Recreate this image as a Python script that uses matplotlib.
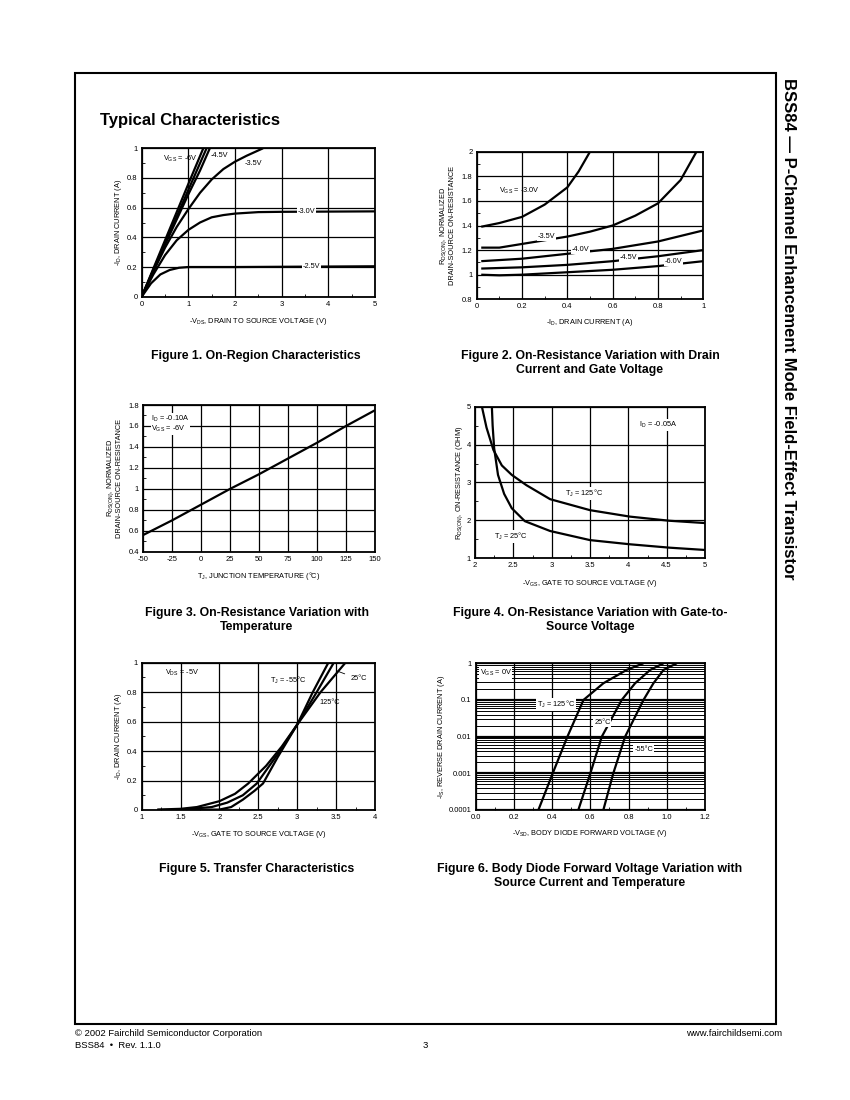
import matplotlib
matplotlib.use("Agg")
import matplotlib.pyplot as plt
from matplotlib.patches import Rectangle
from matplotlib.ticker import FuncFormatter, MultipleLocator, LogLocator, NullFormatter

plt.rcParams['font.family'] = ['Liberation Sans', 'DejaVu Sans']
plt.rcParams['mathtext.fontset'] = 'custom'
plt.rcParams['mathtext.rm'] = 'Liberation Sans'
plt.rcParams['mathtext.it'] = 'Liberation Sans'

# ---- Figure 1: on-region characteristics ----
f1_vgs = ["-6V", "-5V", "-4.5V", "-3.5V", "-3.0V", "-2.5V"]
f1_x = [
    [0, 0.5, 1.0, 1.32],
    [0, 0.5, 1.0, 1.39],
    [0, 0.25, 0.5, 0.75, 1.0, 1.25, 1.46],
    [0, 0.25, 0.5, 0.75, 1.0, 1.25, 1.5, 1.75, 2.0, 2.25, 2.6],
    [0, 0.25, 0.5, 0.75, 1.0, 1.25, 1.5, 1.75, 2.0, 2.5, 3.0, 5.0],
    [0, 0.2, 0.4, 0.6, 0.8, 1.0, 2.0, 5.0],
]
f1_y = [
    [0, 0.38, 0.76, 1.0],
    [0, 0.36, 0.72, 1.0],
    [0, 0.18, 0.35, 0.52, 0.69, 0.85, 1.0],
    [0, 0.17, 0.33, 0.47, 0.59, 0.70, 0.79, 0.86, 0.91, 0.95, 1.0],
    [0, 0.15, 0.28, 0.38, 0.45, 0.50, 0.535, 0.55, 0.56, 0.57, 0.572, 0.575],
    [0, 0.09, 0.15, 0.18, 0.195, 0.2, 0.2, 0.205],
]

# ---- Figure 2: normalized on-resistance vs drain current ----
f2_vgs = ["-3.0V", "-3.5V", "-4.0V", "-4.5V", "-6.0V"]
f2_x = [
    [0.02, 0.1, 0.2, 0.3, 0.4, 0.45, 0.5],
    [0.02, 0.1, 0.2, 0.3, 0.4, 0.5, 0.6, 0.7, 0.8, 0.9, 0.97],
    [0.02, 0.2, 0.4, 0.6, 0.8, 1.0],
    [0.02, 0.2, 0.4, 0.6, 0.8, 1.0],
    [0.02, 0.1, 0.2, 0.4, 0.6, 0.8, 1.0],
]
f2_y = [
    [1.39, 1.42, 1.47, 1.57, 1.71, 1.84, 2.0],
    [1.22, 1.22, 1.25, 1.28, 1.31, 1.35, 1.40, 1.48, 1.58, 1.77, 2.0],
    [1.11, 1.13, 1.17, 1.21, 1.27, 1.36],
    [1.05, 1.06, 1.08, 1.11, 1.15, 1.20],
    [1.0, 0.995, 1.0, 1.02, 1.04, 1.07, 1.11],
]

# ---- Figure 3: normalized on-resistance vs temperature ----
f3_temp = [-50, -25, 0, 25, 50, 75, 100, 125, 150]
f3_r = [0.56, 0.70, 0.85, 1.0, 1.14, 1.29, 1.44, 1.60, 1.75]

# ---- Figure 4: on-resistance vs gate voltage ----
f4_labels = ["25", "125"]
f4_x = [
    [2.22, 2.23, 2.25, 2.3, 2.38, 2.48, 2.65, 2.98, 3.5, 4.02, 4.54, 5.0],
    [2.09, 2.15, 2.24, 2.35, 2.48, 2.67, 2.98, 3.5, 4.02, 4.54, 5.0],
]
f4_y = [
    [5.0, 4.5, 3.9, 3.2, 2.7, 2.32, 1.98, 1.72, 1.48, 1.37, 1.28, 1.22],
    [5.0, 4.45, 3.86, 3.45, 3.2, 2.93, 2.56, 2.27, 2.10, 1.99, 1.93],
]

# ---- Figure 5: transfer characteristics ----
f5_labels = ["-55", "25", "125"]
f5_x = [
    [1.2, 2.0, 2.15, 2.3, 2.45, 2.56, 2.75, 3.0, 3.2, 3.4],
    [1.5, 1.9, 2.1, 2.3, 2.48, 2.75, 3.0, 3.25, 3.47],
    [1.2, 1.5, 1.71, 2.0, 2.2, 2.37, 2.6, 2.8, 3.0, 3.3, 3.62],
]
f5_y = [
    [0.0, 0.003, 0.02, 0.07, 0.13, 0.18, 0.36, 0.58, 0.8, 1.0],
    [0.002, 0.02, 0.05, 0.1, 0.18, 0.38, 0.58, 0.8, 1.0],
    [0.003, 0.008, 0.02, 0.06, 0.11, 0.18, 0.3, 0.43, 0.58, 0.8, 1.0],
]

# ---- Figure 6: body diode forward voltage ----
f6_labels = ["125", "25", "-55"]
f6_i = [0.0001, 0.001, 0.01, 0.1, 0.285, 0.66, 1.0]
f6_v = [
    [0.328, 0.403, 0.48, 0.564, 0.668, 0.79, 0.878],
    [0.537, 0.60, 0.66, 0.764, 0.834, 0.913, 0.983],
    [0.668, 0.72, 0.782, 0.878, 0.93, 0.983, 1.052],
]

W, H = 850, 1100
fig = plt.figure(figsize=(8.5, 11), dpi=100)

TICK = 5.5
LAB = 5.3


def add_ax(l, t, r, b):
    return fig.add_axes([l / W, 1 - b / H, (r - l) / W, (b - t) / H])


def fmt(v, pos):
    return "%g" % v


def style(ax, xlim, ylim, xmaj, ymaj, xmin=None, ymin=None):
    ax.set_xlim(*xlim)
    ax.set_ylim(*ylim)
    ax.xaxis.set_major_locator(MultipleLocator(xmaj))
    ax.yaxis.set_major_locator(MultipleLocator(ymaj))
    if xmin:
        ax.xaxis.set_minor_locator(MultipleLocator(xmin))
    if ymin:
        ax.yaxis.set_minor_locator(MultipleLocator(ymin))
    ax.xaxis.set_major_formatter(FuncFormatter(fmt))
    ax.yaxis.set_major_formatter(FuncFormatter(fmt))
    ax.grid(True, which='major', color='black', lw=0.9)
    ax.tick_params(which='both', direction='in', labelsize=TICK, width=0.6, pad=3)
    ax.tick_params(which='major', length=0)
    ax.tick_params(which='minor', length=2.5)
    for s in ax.spines.values():
        s.set_linewidth(1.3)


def line(ax, x, y):
    ax.plot(x, y, color='black', lw=1.6, solid_capstyle='butt')


wb = dict(facecolor='white', edgecolor='none', pad=0.6)

# Figure 1
ax1 = add_ax(141.7, 148.3, 375, 296.7)
style(ax1, (0, 5), (0, 1), 1, 0.2, 0.5, 0.1)
for x, y in zip(f1_x, f1_y):
    line(ax1, x, y)
ax1.text(0.45, 0.93, "V$_{GS}$ = -6V", fontsize=LAB, ha='left', va='center')
ax1.text(1.47, 0.95, "-4.5V", fontsize=LAB, va='center')
ax1.text(2.2, 0.90, "-3.5V", fontsize=LAB, va='center')
ax1.text(3.35, 0.573, "-3.0V", fontsize=LAB, va='center', bbox=wb)
ax1.text(3.45, 0.205, "-2.5V", fontsize=LAB, va='center', bbox=wb)
ax1.set_xlabel("-V$_{DS}$, DRAIN TO SOURCE VOLTAGE (V)", fontsize=LAB, labelpad=6)
ax1.set_ylabel("-I$_D$, DRAIN CURRENT (A)", fontsize=LAB, labelpad=2)

# Figure 2
ax2 = add_ax(476.7, 151.7, 703.3, 299.3)
style(ax2, (0, 1), (0.8, 2), 0.2, 0.2, 0.1, 0.1)
for x, y in zip(f2_x, f2_y):
    line(ax2, x, y)
ax2.text(0.1, 1.68, "V$_{GS}$ = -3.0V", fontsize=LAB, va='center')
ax2.text(0.27, 1.31, "-3.5V", fontsize=LAB, va='center', bbox=wb)
ax2.text(0.42, 1.205, "-4.0V", fontsize=LAB, va='center', bbox=wb)
ax2.text(0.63, 1.14, "-4.5V", fontsize=LAB, va='center', bbox=wb)
ax2.text(0.83, 1.105, "-6.0V", fontsize=LAB, va='center', bbox=wb)
ax2.set_xlabel("-I$_D$, DRAIN CURRENT (A)", fontsize=LAB, labelpad=5)
ax2.set_ylabel("R$_{DS(ON)}$, NORMALIZED\nDRAIN-SOURCE ON-RESISTANCE", fontsize=LAB,
               labelpad=4, linespacing=1.0)

# Figure 3
ax3 = add_ax(143.3, 405, 375, 551.7)
style(ax3, (-50, 150), (0.4, 1.8), 25, 0.2, None, 0.1)
line(ax3, f3_temp, f3_r)
ax3.text(-43, 1.62, "I$_D$ = -0.10A\nV$_{GS}$ = -6V", fontsize=LAB, va='center',
         linespacing=1.1, bbox=wb)
ax3.set_xlabel("T$_J$, JUNCTION TEMPERATURE (°C)", fontsize=LAB, labelpad=5)
ax3.set_ylabel("R$_{DS(ON)}$, NORMALIZED\nDRAIN-SOURCE ON-RESISTANCE", fontsize=LAB,
               labelpad=4, linespacing=1.0)

# Figure 4
ax4 = add_ax(475, 406.7, 705, 558.3)
style(ax4, (2, 5), (1, 5), 0.5, 1, 0.25, 0.5)
for x, y in zip(f4_x, f4_y):
    line(ax4, x, y)
ax4.text(4.14, 4.52, "I$_D$ = -0.05A", fontsize=LAB, va='center', bbox=wb)
ax4.text(3.18, 2.72, "T$_J$ = 125°C", fontsize=LAB, va='center', bbox=wb)
ax4.text(2.25, 1.57, "T$_J$ = 25°C", fontsize=LAB, va='center', bbox=wb)
ax4.set_xlabel("-V$_{GS}$, GATE TO SOURCE VOLTAGE (V)", fontsize=LAB, labelpad=6)
ax4.set_ylabel("R$_{DS(ON)}$, ON-RESISTANCE (OHM)", fontsize=LAB, labelpad=1)

# Figure 5
ax5 = add_ax(141.7, 662.7, 375, 810)
style(ax5, (1, 4), (0, 1), 0.5, 0.2, 0.25, 0.1)
for x, y in zip(f5_x, f5_y):
    line(ax5, x, y)
ax5.text(1.3, 0.93, "V$_{DS}$ = -5V", fontsize=LAB, va='center')
ax5.text(2.65, 0.88, "T$_J$ = -55°C", fontsize=LAB, va='center')
ax5.annotate("25°C", xy=(3.48, 0.95), xytext=(3.68, 0.89), fontsize=LAB, va='center',
             arrowprops=dict(arrowstyle='-', lw=0.6, color='black'))
ax5.text(3.28, 0.73, "125°C", fontsize=LAB, va='center')
ax5.set_xlabel("-V$_{GS}$, GATE TO SOURCE VOLTAGE (V)", fontsize=LAB, labelpad=6)
ax5.set_ylabel("-I$_D$, DRAIN CURRENT (A)", fontsize=LAB, labelpad=2)

# Figure 6
ax6 = add_ax(475.7, 663.3, 705, 810)
ax6.set_yscale('log')
ax6.set_xlim(0, 1.2)
ax6.set_ylim(0.0001, 1)
ax6.xaxis.set_major_locator(MultipleLocator(0.2))
ax6.xaxis.set_minor_locator(MultipleLocator(0.1))
ax6.xaxis.set_major_formatter(FuncFormatter(lambda v, p: "%.1f" % v))
ax6.yaxis.set_major_locator(LogLocator(base=10, numticks=10))
ax6.yaxis.set_minor_locator(LogLocator(base=10, subs=range(2, 10), numticks=50))
ax6.yaxis.set_major_formatter(FuncFormatter(fmt))
ax6.yaxis.set_minor_formatter(NullFormatter())
ax6.grid(True, which='major', axis='x', color='black', lw=0.9)
ax6.grid(True, which='major', axis='y', color='black', lw=1.6)
ax6.grid(True, which='minor', axis='y', color='black', lw=0.7)
ax6.tick_params(which='both', direction='in', labelsize=TICK, width=0.6, pad=3)
ax6.tick_params(which='major', length=0)
ax6.tick_params(which='minor', axis='x', length=2.5)
ax6.tick_params(which='minor', axis='y', length=0)
for s in ax6.spines.values():
    s.set_linewidth(1.3)
for v in f6_v:
    line(ax6, v, f6_i)
ax6.text(0.02, 0.55, "V$_{GS}$ = 0V", fontsize=LAB, va='center', bbox=wb)
ax6.text(0.32, 0.075, "T$_J$ = 125°C", fontsize=LAB, va='center', bbox=wb)
ax6.text(0.62, 0.024, "25°C", fontsize=LAB, va='center', bbox=wb)
ax6.text(0.83, 0.0045, "-55°C", fontsize=LAB, va='center', bbox=wb)
ax6.set_xlabel("-V$_{SD}$, BODY DIODE FORWARD VOLTAGE (V)", fontsize=LAB, labelpad=5)
ax6.set_ylabel("-I$_S$, REVERSE DRAIN CURRENT (A)", fontsize=LAB, labelpad=1)

# page text
CAP = 8.8
captions = [
    (256, 356, "Figure 1. On-Region Characteristics"),
    (590, 363, "Figure 2. On-Resistance Variation with Drain\nCurrent and Gate Voltage"),
    (257, 620, "Figure 3. On-Resistance Variation with\nTemperature"),
    (590, 620, "Figure 4. On-Resistance Variation with Gate-to-\nSource Voltage"),
    (257, 869, "Figure 5. Transfer Characteristics"),
    (590, 876, "Figure 6. Body Diode Forward Voltage Variation with\nSource Current and Temperature"),
]
for x, y, s in captions:
    fig.text(x / W, 1 - y / H, s, ha='center', va='center', fontsize=CAP,
             fontweight='bold', linespacing=1.25)

fig.text(100 / W, 1 - 120 / H, "Typical Characteristics", fontsize=12, fontweight='bold',
         va='center')
fig.text(789 / W, 1 - 78 / H, "BSS84 — P-Channel Enhancement Mode Field-Effect Transistor",
         rotation=-90, fontsize=12, fontweight='bold', ha='center', va='top')

fig.add_artist(Rectangle((75 / W, 1 - 1024 / H), (776 - 75) / W, (1024 - 73) / H,
                         transform=fig.transFigure, fill=False, lw=1.5, color='black'))

fig.text(75 / W, 1 - 1033 / H, "© 2002 Fairchild Semiconductor Corporation", fontsize=6.8,
         va='center')
fig.text(75 / W, 1 - 1045 / H, "BSS84  •  Rev. 1.1.0", fontsize=6.8, va='center')
fig.text(425 / W, 1 - 1045 / H, "3", fontsize=6.8, va='center', ha='center')
fig.text(782 / W, 1 - 1033 / H, "www.fairchildsemi.com", fontsize=6.8, va='center', ha='right')

fig.savefig("out.png", dpi=100)
